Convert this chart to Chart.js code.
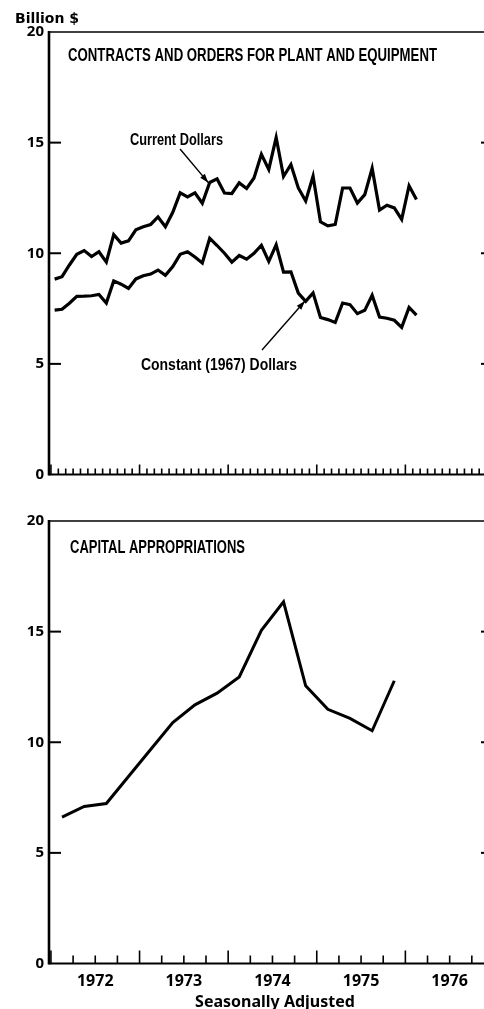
<!DOCTYPE html>
<html>
<head>
<meta charset="utf-8">
<script src="https://cdn.jsdelivr.net/npm/chart.js@4.4.1/dist/chart.umd.min.js"></script>
<style>
  html, body { margin: 0; padding: 0; background: #fff; overflow: hidden; width: 484px; height: 1009px; }
  .panel { position: absolute; left: 0; }
</style>
</head>
<body>
<canvas id="contractsChart" class="panel" width="490" height="500" style="top:0"></canvas>
<canvas id="appropChart" class="panel" width="490" height="509" style="top:500px"></canvas>
<script>
// Données (milliards de $, désaisonnalisées)
const START_YEAR = 1972;
const yearLabels = ['1972', '1973', '1974', '1975', '1976'];

// mensuel, jan 1972 -> fév 1976
const currentDollars = [
  8.83, 8.94, 9.47, 9.95, 10.12, 9.85, 10.07, 9.60, 10.84, 10.46, 10.56, 11.06,
  11.20, 11.30, 11.64, 11.20, 11.85, 12.73, 12.55, 12.73, 12.26, 13.20, 13.36, 12.72,
  12.70, 13.18, 12.93, 13.40, 14.47, 13.79, 15.23, 13.47, 14.01, 12.95, 12.36, 13.48,
  11.42, 11.24, 11.30, 12.95, 12.95, 12.27, 12.65, 13.84, 11.95, 12.17, 12.05, 11.53,
  13.05, 12.43
];
const constantDollars = [
  7.43, 7.47, 7.74, 8.05, 8.06, 8.08, 8.14, 7.75, 8.75, 8.60, 8.41, 8.84,
  8.98, 9.06, 9.24, 9.00, 9.40, 9.95, 10.07, 9.83, 9.56, 10.68, 10.35, 10.00,
  9.60, 9.90, 9.73, 10.00, 10.36, 9.63, 10.38, 9.15, 9.16, 8.20, 7.83, 8.21,
  7.10, 7.00, 6.87, 7.75, 7.68, 7.27, 7.42, 8.10, 7.12, 7.06, 6.97, 6.65,
  7.55, 7.20
];

// trimestriel, T1 1972 -> T4 1975
const capitalAppropriations = [
  6.62, 7.10, 7.23, 8.45, 9.67, 10.89, 11.69, 12.22,
  12.95, 15.06, 16.35, 12.55, 11.49, 11.08, 10.52, 12.78
];

// position des points au milieu du mois / trimestre
const monthX = currentDollars.map((_, i) => START_YEAR + (i + 0.5) / 12);
const quarterX = capitalAppropriations.map((_, i) => START_YEAR + (i + 0.5) / 4);

const X_MIN = 1971.978;
const X_MAX = 1976.91;

function line(ctx, x1, y1, x2, y2) {
  ctx.beginPath();
  ctx.moveTo(x1, y1);
  ctx.lineTo(x2, y2);
  ctx.stroke();
}

// texte condensé (police étroite du graphique d'origine)
function condensed(ctx, text, x, y, font, width) {
  ctx.save();
  ctx.font = font;
  const w = ctx.measureText(text).width;
  ctx.translate(x, y);
  ctx.scale(width / w, 1);
  ctx.fillStyle = '#000';
  ctx.textBaseline = 'alphabetic';
  ctx.textAlign = 'left';
  ctx.fillText(text, 0, 0);
  ctx.restore();
}

function arrow(ctx, x1, y1, x2, y2) {
  ctx.save();
  ctx.strokeStyle = '#000';
  ctx.fillStyle = '#000';
  ctx.lineWidth = 1.4;
  line(ctx, x1, y1, x2, y2);
  const a = Math.atan2(y2 - y1, x2 - x1);
  ctx.beginPath();
  ctx.moveTo(x2, y2);
  ctx.lineTo(x2 - 9 * Math.cos(a) + 3 * Math.sin(a), y2 - 9 * Math.sin(a) - 3 * Math.cos(a));
  ctx.lineTo(x2 - 9 * Math.cos(a) - 3 * Math.sin(a), y2 - 9 * Math.sin(a) + 3 * Math.cos(a));
  ctx.closePath();
  ctx.fill();
  ctx.restore();
}

// cadre, graduations intérieures, titres et annotations
const framePlugin = {
  id: 'frame',
  afterDraw(chart, args, opts) {
    const ctx = chart.ctx;
    const { left, right, top, bottom } = chart.chartArea;
    const xs = chart.scales.x, ys = chart.scales.y;
    ctx.save();
    ctx.strokeStyle = '#000';
    ctx.lineCap = 'butt';

    ctx.lineWidth = 1.6;
    line(ctx, left, top, right, top);
    ctx.lineWidth = 2.6;
    line(ctx, left, top - 1, left, bottom + 1);
    ctx.lineWidth = 2.2;
    line(ctx, left, bottom, right, bottom);

    ctx.lineWidth = 2;
    [5, 10, 15].forEach(v => {
      const y = ys.getPixelForValue(v);
      line(ctx, left, y, left + 12, y);
      line(ctx, right - 5, y, right, y);
    });

    ctx.lineWidth = 1.6;
    const per = opts.perYear;
    for (let i = 0; i <= 5 * per; i++) {
      const x = xs.getPixelForValue(START_YEAR + i / per);
      if (x > right) break;
      const len = i % per === 0 ? opts.major : opts.minor;
      line(ctx, x, bottom, x, bottom - len);
    }

    condensed(ctx, opts.title, left + opts.titleDx, top + opts.titleDy, 'bold 18px "Liberation Sans"', opts.titleWidth);

    (opts.notes || []).forEach(n => {
      condensed(ctx, n.text, xs.getPixelForValue(n.x), ys.getPixelForValue(n.y), 'bold 16px "Liberation Sans"', n.width);
    });
    (opts.arrows || []).forEach(a => {
      arrow(ctx, xs.getPixelForValue(a.from[0]), ys.getPixelForValue(a.from[1]),
                 xs.getPixelForValue(a.to[0]), ys.getPixelForValue(a.to[1]));
    });

    if (opts.unit) {
      ctx.fillStyle = '#000';
      ctx.font = 'bold 14px "DejaVu Sans"';
      ctx.textBaseline = 'alphabetic';
      ctx.textAlign = 'left';
      ctx.fillText(opts.unit, 15, 22.5);
    }
    if (opts.footer) {
      ctx.fillStyle = '#000';
      ctx.font = 'bold 16px "Noto Sans"';
      ctx.textBaseline = 'alphabetic';
      ctx.textAlign = 'center';
      ctx.fillText(opts.footer, 275, chart.height - 2.5);
    }
    ctx.restore();
  }
};

function yAxis() {
  return {
    type: 'linear',
    min: 0,
    max: 20,
    afterFit: s => { s.width = 49; },
    grid: { display: false, drawTicks: false },
    border: { display: false },
    ticks: {
      stepSize: 5,
      padding: 5,
      color: '#000',
      font: { family: '"Noto Sans"', size: 15, weight: 'bold' }
    }
  };
}

function makeChart(id, datasets, xAxis, padTop, frameOpts) {
  return new Chart(document.getElementById(id), {
    type: 'line',
    data: { datasets },
    options: {
      responsive: false,
      animation: false,
      events: [],
      layout: { padding: { top: padTop, right: 4, left: 0, bottom: 0 } },
      plugins: { legend: { display: false }, tooltip: { enabled: false }, frame: frameOpts },
      scales: { x: xAxis, y: yAxis() }
    },
    plugins: [framePlugin]
  });
}

const lineStyle = { borderColor: '#000', borderWidth: 3.2, pointRadius: 0, tension: 0, fill: false };

makeChart('contractsChart', [
  { label: 'Current Dollars', data: currentDollars.map((v, i) => ({ x: monthX[i], y: v })), ...lineStyle },
  { label: 'Constant (1967) Dollars', data: constantDollars.map((v, i) => ({ x: monthX[i], y: v })), ...lineStyle }
], {
  type: 'linear', min: X_MIN, max: X_MAX,
  afterFit: s => { s.height = 25.5; },
  grid: { display: false, drawTicks: false },
  border: { display: false },
  ticks: { display: false }
}, 32, {
  perYear: 12, minor: 6, major: 10,
  title: 'CONTRACTS AND ORDERS FOR PLANT AND EQUIPMENT', titleDx: 19, titleDy: 28.5, titleWidth: 369,
  unit: 'Billion $',
  notes: [
    { text: 'Current Dollars', x: 1972.892, y: 14.89, width: 93 },
    { text: 'Constant (1967) Dollars', x: 1973.016, y: 4.72, width: 156 }
  ],
  arrows: [
    { from: [1973.457, 14.71], to: [1973.776, 13.19] },
    { from: [1974.382, 5.63], to: [1974.867, 7.84] }
  ]
});

makeChart('appropChart', [
  { label: 'Capital Appropriations', data: capitalAppropriations.map((v, i) => ({ x: quarterX[i], y: v })), ...lineStyle, borderWidth: 3 }
], {
  type: 'linear', min: X_MIN, max: X_MAX,
  afterFit: s => { s.height = 45.5; },
  afterBuildTicks: s => { s.ticks = yearLabels.map((_, i) => ({ value: START_YEAR + i + 0.5 })); },
  grid: { display: false, drawTicks: false },
  border: { display: false },
  ticks: {
    autoSkip: false, maxRotation: 0, padding: 8, color: '#000',
    font: { family: '"Noto Sans"', size: 16, weight: 'bold' },
    callback: (v, i) => yearLabels[i]
  }
}, 21, {
  perYear: 4, minor: 8, major: 13,
  title: 'CAPITAL APPROPRIATIONS', titleDx: 21, titleDy: 32, titleWidth: 175,
  footer: 'Seasonally Adjusted'
});
</script>
</body>
</html>
